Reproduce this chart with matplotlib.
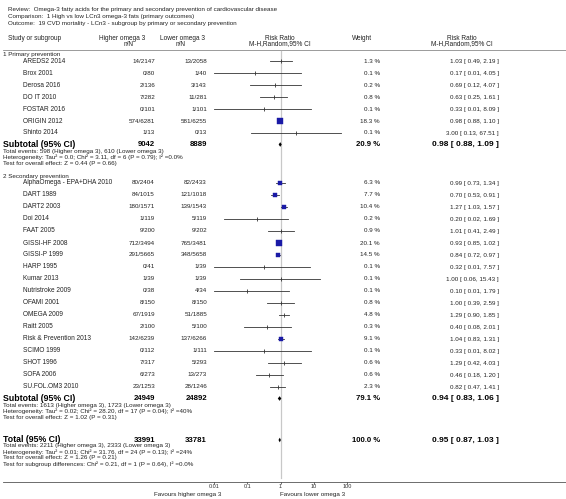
import matplotlib
matplotlib.use("Agg")
import matplotlib.pyplot as plt
import numpy as np

plt.rcParams['font.family'] = ['Liberation Sans', 'DejaVu Sans']

# ---------------- data ----------------
title_lines = [
    "Review:  Omega-3 fatty acids for the primary and secondary prevention of cardiovascular disease",
    "Comparison:  1 High vs low LCn3 omega-3 fats (primary outcomes)",
    "Outcome:  19 CVD mortality - LCn3 - subgroup by primary or secondary prevention",
]
group_names = ["1 Primary prevention", "2 Secondary prevention"]

primary_studies = ["AREDS2 2014", "Brox 2001", "Derosa 2016", "DO IT 2010", "FOSTAR 2016",
                   "ORIGIN 2012", "Shinto 2014"]
primary_ev_hi = [14, 0, 2, 7, 0, 574, 1]
primary_n_hi = [2147, 80, 136, 282, 101, 6281, 13]
primary_ev_lo = [13, 1, 3, 11, 1, 581, 0]
primary_n_lo = [2058, 40, 143, 281, 101, 6255, 13]
primary_weight = [1.3, 0.1, 0.2, 0.8, 0.1, 18.3, 0.1]
primary_rr = [1.03, 0.17, 0.69, 0.63, 0.33, 0.98, 3.00]
primary_lo = [0.49, 0.01, 0.12, 0.25, 0.01, 0.88, 0.13]
primary_hi = [2.19, 4.05, 4.07, 1.61, 8.09, 1.10, 67.51]

secondary_studies = ["AlphaOmega - EPA+DHA 2010", "DART 1989", "DART2 2003", "Doi 2014", "FAAT 2005",
                     "GISSI-HF 2008", "GISSI-P 1999", "HARP 1995", "Kumar 2013", "Nutristroke 2009",
                     "OFAMI 2001", "OMEGA 2009", "Raitt 2005", "Risk & Prevention 2013", "SCIMO 1999",
                     "SHOT 1996", "SOFA 2006", "SU.FOL.OM3 2010"]
secondary_ev_hi = [80, 84, 180, 1, 9, 712, 291, 0, 1, 0, 8, 67, 2, 142, 0, 7, 6, 23]
secondary_n_hi = [2404, 1015, 1571, 119, 200, 3494, 5665, 41, 39, 38, 150, 1919, 100, 6239, 112, 317, 273, 1253]
secondary_ev_lo = [82, 121, 139, 5, 9, 765, 348, 1, 1, 4, 8, 51, 5, 137, 1, 5, 13, 28]
secondary_n_lo = [2433, 1018, 1543, 119, 202, 3481, 5658, 39, 39, 34, 150, 1885, 100, 6266, 111, 293, 273, 1246]
secondary_weight = [6.3, 7.7, 10.4, 0.2, 0.9, 20.1, 14.5, 0.1, 0.1, 0.1, 0.8, 4.8, 0.3, 9.1, 0.1, 0.6, 0.6, 2.3]
secondary_rr = [0.99, 0.70, 1.27, 0.20, 1.01, 0.93, 0.84, 0.32, 1.00, 0.10, 1.00, 1.29, 0.40, 1.04, 0.33, 1.29, 0.46, 0.82]
secondary_lo = [0.73, 0.53, 1.03, 0.02, 0.41, 0.85, 0.72, 0.01, 0.06, 0.01, 0.39, 0.90, 0.08, 0.83, 0.01, 0.42, 0.18, 0.47]
secondary_hi = [1.34, 0.91, 1.57, 1.69, 2.49, 1.02, 0.97, 7.57, 15.43, 1.79, 2.59, 1.85, 2.01, 1.31, 8.02, 4.03, 1.20, 1.41]

subtotal_n_hi = [9042, 24949]
subtotal_n_lo = [8889, 24892]
subtotal_weight = [20.9, 79.1]
subtotal_rr = [0.98, 0.94]
subtotal_lo = [0.88, 0.83]
subtotal_hi = [1.09, 1.06]
subtotal_events_hi = [598, 1613]
subtotal_events_lo = [610, 1723]
subtotal_het = ["Heterogeneity: Tau\u00b2 = 0.0; Chi\u00b2 = 3.11, df = 6 (P = 0.79); I\u00b2 =0.0%",
                "Heterogeneity: Tau\u00b2 = 0.02; Chi\u00b2 = 28.20, df = 17 (P = 0.04); I\u00b2 =40%"]
subtotal_test = ["Test for overall effect: Z = 0.44 (P = 0.66)",
                 "Test for overall effect: Z = 1.02 (P = 0.31)"]

total_n_hi = 33991
total_n_lo = 33781
total_weight = 100.0
total_rr = 0.95
total_lo = 0.87
total_hi = 1.03
total_events_hi = 2211
total_events_lo = 2333
total_het = "Heterogeneity: Tau\u00b2 = 0.01; Chi\u00b2 = 31.76, df = 24 (P = 0.13); I\u00b2 =24%"
total_test = "Test for overall effect: Z = 1.26 (P = 0.21)"
total_subgroup = "Test for subgroup differences: Chi\u00b2 = 0.21, df = 1 (P = 0.64), I\u00b2 =0.0%"

axis_ticks = [0.01, 0.1, 1, 10, 100]
axis_ticklabels = ["0.01", "0.1", "1", "10", "100"]
favours_left = "Favours higher omega 3"
favours_right = "Favours lower omega 3"

groups = [
    (primary_studies, primary_ev_hi, primary_n_hi, primary_ev_lo, primary_n_lo,
     primary_weight, primary_rr, primary_lo, primary_hi),
    (secondary_studies, secondary_ev_hi, secondary_n_hi, secondary_ev_lo, secondary_n_lo,
     secondary_weight, secondary_rr, secondary_lo, secondary_hi),
]

# ---------------- layout ----------------
W, H = 566, 499
fig = plt.figure(figsize=(W / 100, H / 100), dpi=100)
tx = fig.add_axes([0, 0, 1, 1])
tx.set_xlim(0, W)
tx.set_ylim(H, 0)
tx.axis('off')

AX_L, AX_R, AX_TOP, AX_BOT = 214, 347, 50, 482
fx = fig.add_axes([AX_L / W, (H - AX_BOT) / H, (AX_R - AX_L) / W, (AX_BOT - AX_TOP) / H])
fx.set_xscale('log')
fx.set_xlim(0.01, 100)
fx.set_ylim(AX_BOT, AX_TOP)
fx.patch.set_visible(False)
for s in fx.spines.values():
    s.set_visible(False)
fx.set_yticks([])
fx.set_xticks(axis_ticks)
fx.set_xticklabels(axis_ticklabels)
fx.xaxis.set_minor_locator(matplotlib.ticker.NullLocator())
fx.tick_params(axis='x', length=1.2, width=0.5, pad=0.4, labelsize=4.0, colors='#333333')

TXT = '#222222'
FS = 4.5
FSN = 4.7
FSL = 6.3
FSB = 5.6
SQ = '#1a1aa6'

X_NAME_IND = 23
X_LEFT = 3
X_HI = 155
X_LO = 207
X_W = 380
X_RR = 499

# titles
for i, t in enumerate(title_lines):
    tx.text(8, 9.5 + 7 * i, t, fontsize=FS, color=TXT, va='center', ha='left')

# header
HF = FS + 0.2
tx.text(8, 38, "Study or subgroup", fontsize=HF, color=TXT, va='center')
tx.text(122, 38, "Higher omega 3", fontsize=HF, color=TXT, va='center', ha='center')
tx.text(129, 44, "n/N", fontsize=HF, color=TXT, va='center', ha='center')
tx.text(183, 38, "Lower omega 3", fontsize=HF, color=TXT, va='center', ha='center')
tx.text(181, 44, "n/N", fontsize=HF, color=TXT, va='center', ha='center')
tx.text(280, 38, "Risk Ratio", fontsize=HF, color=TXT, va='center', ha='center')
tx.text(280, 44, "M-H,Random,95% CI", fontsize=HF, color=TXT, va='center', ha='center')
tx.text(362, 38, "Weight", fontsize=HF, color=TXT, va='center', ha='center')
tx.text(462, 38, "Risk Ratio", fontsize=HF, color=TXT, va='center', ha='center')
tx.text(462, 44, "M-H,Random,95% CI", fontsize=HF, color=TXT, va='center', ha='center')
tx.plot([3, W], [50, 50], color='#8a8a8a', lw=0.6)

# no-effect line
fx.plot([1, 1], [51, 478], color='#c8c8c8', lw=0.9, zorder=1)


def fmt_rr(r, l, h):
    return f"{r:.2f} [ {l:.2f}, {h:.2f} ]"


def draw_diamond(y, r, l, h, hh=2.3):
    fx.fill([l, r, h, r], [y, y - hh, y, y + hh], color='black', lw=0, zorder=3)


group_header_y = [54.5, 176.5]
group_first_y = [61, 183]
for g, (names, eh, nh, el, nl, wt, rr, lo, hi) in enumerate(groups):
    tx.text(X_LEFT, group_header_y[g], group_names[g], fontsize=FS, color=TXT, va='center')
    y0 = group_first_y[g]
    for k in range(len(names)):
        y = y0 + 12 * k
        tx.text(X_NAME_IND, y, names[k], fontsize=FSN, color=TXT, va='center')
        tx.text(X_HI, y, f"{eh[k]}/{nh[k]}", fontsize=FS, color=TXT, va='center', ha='right')
        tx.text(X_LO, y, f"{el[k]}/{nl[k]}", fontsize=FS, color=TXT, va='center', ha='right')
        tx.text(X_W, y, f"{wt[k]:.1f} %", fontsize=FS, color=TXT, va='center', ha='right')
        tx.text(X_RR, y, fmt_rr(rr[k], lo[k], hi[k]), fontsize=FS, color=TXT, va='center', ha='right')
        fx.plot([lo[k], hi[k]], [y, y], color='#333333', lw=0.6, zorder=2, clip_on=True)
        if wt[k] >= 5:
            side_px = 1.2 * np.sqrt(wt[k])
            fx.plot([rr[k]], [y], marker='s', ms=side_px * 0.72, color=SQ, mec=SQ, mew=0.3,
                    linestyle='none', zorder=4)
        else:
            fx.plot([rr[k]], [y], marker='|', ms=2.4, color='#333333', mew=0.6,
                    linestyle='none', zorder=4)
    ys = y0 + 12 * len(names) - 0.5
    tx.text(X_LEFT, ys, "Subtotal (95% CI)", fontsize=FSL, color='black', va='center', fontweight='bold')
    tx.text(X_HI, ys, f"{subtotal_n_hi[g]}", fontsize=FSB, color='black', va='center', ha='right', fontweight='bold')
    tx.text(X_LO, ys, f"{subtotal_n_lo[g]}", fontsize=FSB, color='black', va='center', ha='right', fontweight='bold')
    tx.text(X_W, ys, f"{subtotal_weight[g]:.1f} %", fontsize=FSB, color='black', va='center', ha='right', fontweight='bold')
    tx.text(X_RR, ys, fmt_rr(subtotal_rr[g], subtotal_lo[g], subtotal_hi[g]), fontsize=FSB + 0.4, color='black',
            va='center', ha='right', fontweight='bold')
    draw_diamond(ys, subtotal_rr[g], subtotal_lo[g], subtotal_hi[g])
    tx.text(X_LEFT, ys + 6.5, f"Total events: {subtotal_events_hi[g]} (Higher omega 3), {subtotal_events_lo[g]} (Lower omega 3)",
            fontsize=FS, color=TXT, va='center')
    tx.text(X_LEFT, ys + 12.5, subtotal_het[g], fontsize=FS, color=TXT, va='center')
    tx.text(X_LEFT, ys + 18.5, subtotal_test[g], fontsize=FS, color=TXT, va='center')

# overall total
yt = 440
tx.text(X_LEFT, yt, "Total (95% CI)", fontsize=FSL, color='black', va='center', fontweight='bold')
tx.text(X_HI, yt, f"{total_n_hi}", fontsize=FSB, color='black', va='center', ha='right', fontweight='bold')
tx.text(X_LO, yt, f"{total_n_lo}", fontsize=FSB, color='black', va='center', ha='right', fontweight='bold')
tx.text(X_W, yt, f"{total_weight:.1f} %", fontsize=FSB, color='black', va='center', ha='right', fontweight='bold')
tx.text(X_RR, yt, fmt_rr(total_rr, total_lo, total_hi), fontsize=FSB + 0.4, color='black', va='center', ha='right',
        fontweight='bold')
draw_diamond(yt, total_rr, total_lo, total_hi)
tx.text(X_LEFT, yt + 6, f"Total events: {total_events_hi} (Higher omega 3), {total_events_lo} (Lower omega 3)",
        fontsize=FS, color=TXT, va='center')
tx.text(X_LEFT, yt + 12, total_het, fontsize=FS, color=TXT, va='center')
tx.text(X_LEFT, yt + 18, total_test, fontsize=FS, color=TXT, va='center')
tx.text(X_LEFT, yt + 24, total_subgroup, fontsize=FS, color=TXT, va='center')

# bottom axis line across the figure
tx.plot([3, W], [AX_BOT, AX_BOT], color='#555555', lw=0.6)
tx.text(221, 494.5, favours_left, fontsize=FS, color=TXT, va='center', ha='right')
tx.text(280, 494.5, favours_right, fontsize=FS, color=TXT, va='center', ha='left')

fig.savefig("out.png", dpi=100)
